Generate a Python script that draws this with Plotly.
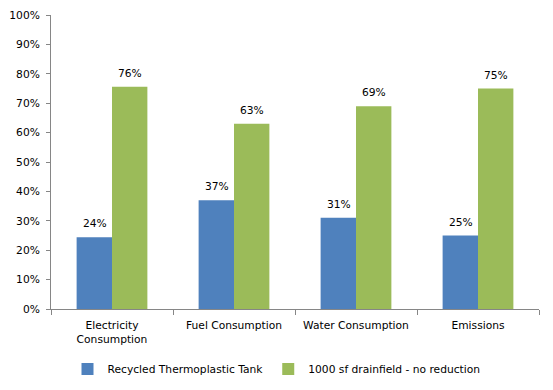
import plotly.graph_objects as go

categories = ["Electricity<br>Consumption", "Fuel Consumption", "Water Consumption", "Emissions"]
series_names = ["Recycled Thermoplastic Tank", "1000 sf drainfield - no reduction"]
tank_values = [0.244, 0.37, 0.31, 0.25]
drainfield_values = [0.756, 0.63, 0.69, 0.75]
y_tick_values = [0, 0.1, 0.2, 0.3, 0.4, 0.5, 0.6, 0.7, 0.8, 0.9, 1.0]
y_tick_labels = ["0%", "10%", "20%", "30%", "40%", "50%", "60%", "70%", "80%", "90%", "100%"]

blue = "#4F81BD"
green = "#9BBB59"
font_family = "DejaVu Sans"
fs = 10.7

fig = go.Figure()
fig.add_trace(go.Bar(x=categories, y=tank_values, name=series_names[0],
                     marker=dict(color=blue, line=dict(width=0))))
fig.add_trace(go.Bar(x=categories, y=drainfield_values, name=series_names[1],
                     marker=dict(color=green, line=dict(width=0))))

annotations = []
for vals, shift in ((tank_values, -17.5), (drainfield_values, 17.5)):
    for c, v in zip(categories, vals):
        annotations.append(dict(x=c, y=v, text=f"{round(v*100)}%", showarrow=False,
                                xshift=shift, yshift=5, yanchor="bottom", xref="x", yref="y",
                                font=dict(family=font_family, size=fs, color="#000000")))

fig.update_layout(
    width=553, height=390,
    margin=dict(l=51, r=14, t=15, b=81, autoexpand=False),
    paper_bgcolor="white", plot_bgcolor="white",
    barmode="group", bargap=0.42, bargroupgap=0,
    font=dict(family=font_family, size=fs, color="#000000"),
    showlegend=True,
    legend=dict(orientation="h", x=0.5, xanchor="center", xref="container",
                y=(390 - 369) / 390, yanchor="middle", yref="container",
                font=dict(family=font_family, size=fs), itemwidth=30, traceorder="normal"),
    annotations=annotations,
)
fig.update_yaxes(range=[0, 1.0], tickvals=y_tick_values, ticktext=y_tick_labels,
                 showgrid=False, showline=True, linecolor="#868686", linewidth=1,
                 ticks="outside", ticklen=4, tickcolor="#868686", zeroline=False,
                 ticklabelstandoff=4, automargin=False,
                 tickfont=dict(family=font_family, size=fs))
fig.update_xaxes(showgrid=False, showline=True, linecolor="#868686", linewidth=1,
                 ticks="outside", ticklen=5, tickcolor="#868686", tickson="boundaries",
                 ticklabelstandoff=6, automargin=False,
                 tickfont=dict(family=font_family, size=fs))

fig.write_html("out.html", config={"displayModeBar": False},
               post_script="document.body.style.margin='0';")
